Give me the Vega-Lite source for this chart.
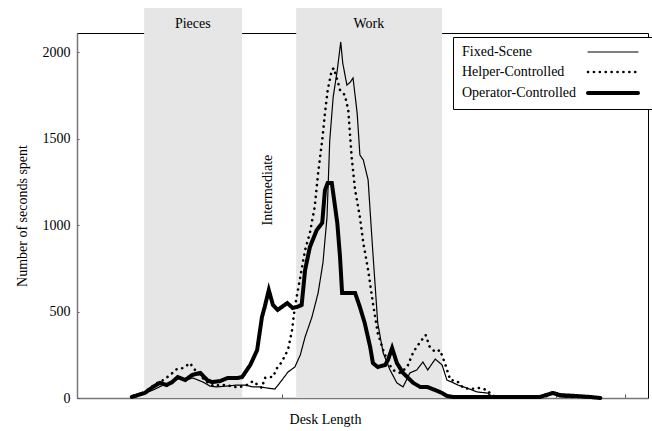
{
  "$schema": "https://vega.github.io/schema/vega-lite/v6.json",
  "width": 571,
  "height": 365,
  "autosize": {"type": "none"},
  "padding": {"left": 77, "top": 33, "right": 4, "bottom": 33},
  "background": "white",
  "config": {
    "view": {"stroke": "black", "strokeWidth": 1},
    "font": "Liberation Serif",
    "axis": {"labelFont": "Liberation Serif", "titleFont": "Liberation Serif", "labelColor": "black", "titleColor": "black", "titleFontWeight": "normal", "grid": false, "domainColor": "#777", "domainWidth": 1.5, "tickColor": "#555"}
  },
  "datasets": {
    "bands": [
      {"band": "Pieces", "start": 0.98, "end": 2.41, "center": 1.69},
      {"band": "Work", "start": 3.2, "end": 5.33, "center": 4.26}
    ],
    "series": [
      {"s": "Fixed-Scene", "x": 0.82, "v": 6}, {"s": "Fixed-Scene", "x": 0.99, "v": 29}, {"s": "Fixed-Scene", "x": 1.11, "v": 46}, {"s": "Fixed-Scene", "x": 1.26, "v": 75}, {"s": "Fixed-Scene", "x": 1.39, "v": 92}, {"s": "Fixed-Scene", "x": 1.5, "v": 116}, {"s": "Fixed-Scene", "x": 1.59, "v": 104}, {"s": "Fixed-Scene", "x": 1.69, "v": 116}, {"s": "Fixed-Scene", "x": 1.84, "v": 92}, {"s": "Fixed-Scene", "x": 1.94, "v": 69}, {"s": "Fixed-Scene", "x": 2.04, "v": 64}, {"s": "Fixed-Scene", "x": 2.19, "v": 69}, {"s": "Fixed-Scene", "x": 2.34, "v": 75}, {"s": "Fixed-Scene", "x": 2.45, "v": 75}, {"s": "Fixed-Scene", "x": 2.57, "v": 64}, {"s": "Fixed-Scene", "x": 2.67, "v": 64}, {"s": "Fixed-Scene", "x": 2.77, "v": 58}, {"s": "Fixed-Scene", "x": 2.89, "v": 52}, {"s": "Fixed-Scene", "x": 2.96, "v": 87}, {"s": "Fixed-Scene", "x": 3.08, "v": 150}, {"s": "Fixed-Scene", "x": 3.18, "v": 179}, {"s": "Fixed-Scene", "x": 3.26, "v": 249}, {"s": "Fixed-Scene", "x": 3.33, "v": 353}, {"s": "Fixed-Scene", "x": 3.43, "v": 468}, {"s": "Fixed-Scene", "x": 3.52, "v": 607}, {"s": "Fixed-Scene", "x": 3.59, "v": 780}, {"s": "Fixed-Scene", "x": 3.65, "v": 1046}, {"s": "Fixed-Scene", "x": 3.69, "v": 1491}, {"s": "Fixed-Scene", "x": 3.74, "v": 1740}, {"s": "Fixed-Scene", "x": 3.8, "v": 1896}, {"s": "Fixed-Scene", "x": 3.85, "v": 2058}, {"s": "Fixed-Scene", "x": 3.88, "v": 1936}, {"s": "Fixed-Scene", "x": 3.94, "v": 1809}, {"s": "Fixed-Scene", "x": 3.99, "v": 1826}, {"s": "Fixed-Scene", "x": 4.03, "v": 1850}, {"s": "Fixed-Scene", "x": 4.09, "v": 1647}, {"s": "Fixed-Scene", "x": 4.13, "v": 1405}, {"s": "Fixed-Scene", "x": 4.18, "v": 1376}, {"s": "Fixed-Scene", "x": 4.25, "v": 1260}, {"s": "Fixed-Scene", "x": 4.31, "v": 896}, {"s": "Fixed-Scene", "x": 4.35, "v": 665}, {"s": "Fixed-Scene", "x": 4.39, "v": 434}, {"s": "Fixed-Scene", "x": 4.47, "v": 260}, {"s": "Fixed-Scene", "x": 4.57, "v": 162}, {"s": "Fixed-Scene", "x": 4.67, "v": 87}, {"s": "Fixed-Scene", "x": 4.76, "v": 64}, {"s": "Fixed-Scene", "x": 4.86, "v": 145}, {"s": "Fixed-Scene", "x": 4.96, "v": 162}, {"s": "Fixed-Scene", "x": 5.05, "v": 208}, {"s": "Fixed-Scene", "x": 5.12, "v": 162}, {"s": "Fixed-Scene", "x": 5.23, "v": 225}, {"s": "Fixed-Scene", "x": 5.33, "v": 191}, {"s": "Fixed-Scene", "x": 5.4, "v": 104}, {"s": "Fixed-Scene", "x": 5.47, "v": 92}, {"s": "Fixed-Scene", "x": 5.56, "v": 75}, {"s": "Fixed-Scene", "x": 5.69, "v": 58}, {"s": "Fixed-Scene", "x": 5.84, "v": 35}, {"s": "Fixed-Scene", "x": 5.99, "v": 29}, {"s": "Fixed-Scene", "x": 6.07, "v": 6}, {"s": "Fixed-Scene", "x": 6.76, "v": 6}, {"s": "Fixed-Scene", "x": 6.95, "v": 23}, {"s": "Fixed-Scene", "x": 7.05, "v": 6}, {"s": "Fixed-Scene", "x": 7.64, "v": 0},
      {"s": "Helper-Controlled", "x": 0.88, "v": 17}, {"s": "Helper-Controlled", "x": 0.99, "v": 35}, {"s": "Helper-Controlled", "x": 1.17, "v": 87}, {"s": "Helper-Controlled", "x": 1.26, "v": 104}, {"s": "Helper-Controlled", "x": 1.36, "v": 133}, {"s": "Helper-Controlled", "x": 1.46, "v": 168}, {"s": "Helper-Controlled", "x": 1.55, "v": 173}, {"s": "Helper-Controlled", "x": 1.65, "v": 202}, {"s": "Helper-Controlled", "x": 1.69, "v": 179}, {"s": "Helper-Controlled", "x": 1.77, "v": 139}, {"s": "Helper-Controlled", "x": 1.9, "v": 92}, {"s": "Helper-Controlled", "x": 1.99, "v": 69}, {"s": "Helper-Controlled", "x": 2.09, "v": 75}, {"s": "Helper-Controlled", "x": 2.19, "v": 75}, {"s": "Helper-Controlled", "x": 2.28, "v": 64}, {"s": "Helper-Controlled", "x": 2.38, "v": 64}, {"s": "Helper-Controlled", "x": 2.48, "v": 75}, {"s": "Helper-Controlled", "x": 2.57, "v": 98}, {"s": "Helper-Controlled", "x": 2.64, "v": 75}, {"s": "Helper-Controlled", "x": 2.7, "v": 58}, {"s": "Helper-Controlled", "x": 2.74, "v": 116}, {"s": "Helper-Controlled", "x": 2.82, "v": 121}, {"s": "Helper-Controlled", "x": 2.86, "v": 121}, {"s": "Helper-Controlled", "x": 2.92, "v": 173}, {"s": "Helper-Controlled", "x": 2.99, "v": 208}, {"s": "Helper-Controlled", "x": 3.04, "v": 249}, {"s": "Helper-Controlled", "x": 3.08, "v": 277}, {"s": "Helper-Controlled", "x": 3.14, "v": 393}, {"s": "Helper-Controlled", "x": 3.18, "v": 526}, {"s": "Helper-Controlled", "x": 3.26, "v": 699}, {"s": "Helper-Controlled", "x": 3.33, "v": 855}, {"s": "Helper-Controlled", "x": 3.4, "v": 954}, {"s": "Helper-Controlled", "x": 3.47, "v": 1104}, {"s": "Helper-Controlled", "x": 3.52, "v": 1300}, {"s": "Helper-Controlled", "x": 3.58, "v": 1491}, {"s": "Helper-Controlled", "x": 3.62, "v": 1647}, {"s": "Helper-Controlled", "x": 3.66, "v": 1780}, {"s": "Helper-Controlled", "x": 3.72, "v": 1896}, {"s": "Helper-Controlled", "x": 3.75, "v": 1907}, {"s": "Helper-Controlled", "x": 3.8, "v": 1838}, {"s": "Helper-Controlled", "x": 3.84, "v": 1780}, {"s": "Helper-Controlled", "x": 3.91, "v": 1751}, {"s": "Helper-Controlled", "x": 3.96, "v": 1665}, {"s": "Helper-Controlled", "x": 4.01, "v": 1393}, {"s": "Helper-Controlled", "x": 4.06, "v": 1202}, {"s": "Helper-Controlled", "x": 4.13, "v": 1046}, {"s": "Helper-Controlled", "x": 4.18, "v": 896}, {"s": "Helper-Controlled", "x": 4.25, "v": 740}, {"s": "Helper-Controlled", "x": 4.32, "v": 549}, {"s": "Helper-Controlled", "x": 4.39, "v": 376}, {"s": "Helper-Controlled", "x": 4.47, "v": 277}, {"s": "Helper-Controlled", "x": 4.54, "v": 208}, {"s": "Helper-Controlled", "x": 4.61, "v": 162}, {"s": "Helper-Controlled", "x": 4.72, "v": 145}, {"s": "Helper-Controlled", "x": 4.82, "v": 179}, {"s": "Helper-Controlled", "x": 4.91, "v": 266}, {"s": "Helper-Controlled", "x": 5.01, "v": 324}, {"s": "Helper-Controlled", "x": 5.09, "v": 364}, {"s": "Helper-Controlled", "x": 5.15, "v": 295}, {"s": "Helper-Controlled", "x": 5.23, "v": 266}, {"s": "Helper-Controlled", "x": 5.3, "v": 277}, {"s": "Helper-Controlled", "x": 5.37, "v": 202}, {"s": "Helper-Controlled", "x": 5.45, "v": 104}, {"s": "Helper-Controlled", "x": 5.55, "v": 98}, {"s": "Helper-Controlled", "x": 5.64, "v": 58}, {"s": "Helper-Controlled", "x": 5.74, "v": 52}, {"s": "Helper-Controlled", "x": 5.88, "v": 58}, {"s": "Helper-Controlled", "x": 5.99, "v": 46}, {"s": "Helper-Controlled", "x": 6.06, "v": 12}, {"s": "Helper-Controlled", "x": 6.18, "v": 6}, {"s": "Helper-Controlled", "x": 6.76, "v": 6}, {"s": "Helper-Controlled", "x": 6.88, "v": 12}, {"s": "Helper-Controlled", "x": 6.95, "v": 40}, {"s": "Helper-Controlled", "x": 7.02, "v": 17}, {"s": "Helper-Controlled", "x": 7.2, "v": 6}, {"s": "Helper-Controlled", "x": 7.42, "v": 6}, {"s": "Helper-Controlled", "x": 7.64, "v": 0},
      {"s": "Operator-Controlled", "x": 0.8, "v": 6}, {"s": "Operator-Controlled", "x": 0.99, "v": 29}, {"s": "Operator-Controlled", "x": 1.11, "v": 64}, {"s": "Operator-Controlled", "x": 1.21, "v": 87}, {"s": "Operator-Controlled", "x": 1.31, "v": 75}, {"s": "Operator-Controlled", "x": 1.39, "v": 92}, {"s": "Operator-Controlled", "x": 1.47, "v": 121}, {"s": "Operator-Controlled", "x": 1.58, "v": 104}, {"s": "Operator-Controlled", "x": 1.68, "v": 133}, {"s": "Operator-Controlled", "x": 1.8, "v": 145}, {"s": "Operator-Controlled", "x": 1.9, "v": 104}, {"s": "Operator-Controlled", "x": 1.97, "v": 92}, {"s": "Operator-Controlled", "x": 2.09, "v": 98}, {"s": "Operator-Controlled", "x": 2.2, "v": 116}, {"s": "Operator-Controlled", "x": 2.35, "v": 116}, {"s": "Operator-Controlled", "x": 2.41, "v": 121}, {"s": "Operator-Controlled", "x": 2.53, "v": 191}, {"s": "Operator-Controlled", "x": 2.63, "v": 277}, {"s": "Operator-Controlled", "x": 2.7, "v": 468}, {"s": "Operator-Controlled", "x": 2.74, "v": 526}, {"s": "Operator-Controlled", "x": 2.8, "v": 624}, {"s": "Operator-Controlled", "x": 2.86, "v": 538}, {"s": "Operator-Controlled", "x": 2.93, "v": 509}, {"s": "Operator-Controlled", "x": 3.07, "v": 549}, {"s": "Operator-Controlled", "x": 3.15, "v": 520}, {"s": "Operator-Controlled", "x": 3.21, "v": 526}, {"s": "Operator-Controlled", "x": 3.28, "v": 538}, {"s": "Operator-Controlled", "x": 3.33, "v": 740}, {"s": "Operator-Controlled", "x": 3.4, "v": 873}, {"s": "Operator-Controlled", "x": 3.5, "v": 971}, {"s": "Operator-Controlled", "x": 3.58, "v": 1012}, {"s": "Operator-Controlled", "x": 3.62, "v": 1202}, {"s": "Operator-Controlled", "x": 3.66, "v": 1243}, {"s": "Operator-Controlled", "x": 3.72, "v": 1243}, {"s": "Operator-Controlled", "x": 3.8, "v": 1012}, {"s": "Operator-Controlled", "x": 3.84, "v": 815}, {"s": "Operator-Controlled", "x": 3.87, "v": 607}, {"s": "Operator-Controlled", "x": 3.94, "v": 607}, {"s": "Operator-Controlled", "x": 4.06, "v": 607}, {"s": "Operator-Controlled", "x": 4.13, "v": 526}, {"s": "Operator-Controlled", "x": 4.2, "v": 434}, {"s": "Operator-Controlled", "x": 4.28, "v": 295}, {"s": "Operator-Controlled", "x": 4.32, "v": 202}, {"s": "Operator-Controlled", "x": 4.39, "v": 179}, {"s": "Operator-Controlled", "x": 4.5, "v": 191}, {"s": "Operator-Controlled", "x": 4.54, "v": 220}, {"s": "Operator-Controlled", "x": 4.6, "v": 289}, {"s": "Operator-Controlled", "x": 4.67, "v": 202}, {"s": "Operator-Controlled", "x": 4.76, "v": 145}, {"s": "Operator-Controlled", "x": 4.91, "v": 87}, {"s": "Operator-Controlled", "x": 5.01, "v": 64}, {"s": "Operator-Controlled", "x": 5.11, "v": 64}, {"s": "Operator-Controlled", "x": 5.23, "v": 46}, {"s": "Operator-Controlled", "x": 5.33, "v": 29}, {"s": "Operator-Controlled", "x": 5.4, "v": 12}, {"s": "Operator-Controlled", "x": 5.49, "v": 6}, {"s": "Operator-Controlled", "x": 6.18, "v": 6}, {"s": "Operator-Controlled", "x": 6.76, "v": 6}, {"s": "Operator-Controlled", "x": 6.95, "v": 29}, {"s": "Operator-Controlled", "x": 7.05, "v": 17}, {"s": "Operator-Controlled", "x": 7.27, "v": 12}, {"s": "Operator-Controlled", "x": 7.49, "v": 6}, {"s": "Operator-Controlled", "x": 7.64, "v": 0}
    ]
  },
  "layer": [
    {
      "data": {"name": "bands"},
      "mark": {"type": "rect", "color": "#e6e6e6", "clip": false},
      "encoding": {
        "x": {"field": "start", "type": "quantitative", "scale": {"domain": [0, 8.336], "nice": false, "zero": false}},
        "x2": {"field": "end"},
        "y": {"datum": 0, "type": "quantitative", "scale": {"domain": [0, 2110], "nice": false}},
        "y2": {"datum": 2254}
      }
    },
    {
      "data": {"name": "bands"},
      "mark": {"type": "text", "font": "Liberation Serif", "fontSize": 14, "color": "black", "baseline": "middle", "clip": false},
      "encoding": {
        "x": {"field": "center", "type": "quantitative"},
        "y": {"datum": 2162, "type": "quantitative"},
        "text": {"field": "band"}
      }
    },
    {
      "data": {"values": [{"label": "Intermediate"}]},
      "mark": {"type": "text", "font": "Liberation Serif", "fontSize": 14, "color": "black", "angle": 270, "baseline": "middle", "align": "center"},
      "encoding": {
        "x": {"datum": 2.79, "type": "quantitative"},
        "y": {"datum": 1202, "type": "quantitative"},
        "text": {"field": "label"}
      }
    },
    {
      "data": {"name": "series"},
      "mark": {"type": "line", "color": "black", "strokeCap": "round", "strokeJoin": "miter"},
      "encoding": {
        "x": {"field": "x", "type": "quantitative", "axis": {"values": [0, 1, 2, 3, 4, 5, 6, 7, 8], "labels": false, "tickSize": -4, "title": "Desk Length", "titleFontSize": 14, "titlePadding": 14, "titleX": 248}},
        "y": {"field": "v", "type": "quantitative", "axis": {"values": [0, 500, 1000, 1500, 2000], "format": "d", "tickSize": -2, "labelFontSize": 14, "labelPadding": 9, "title": "Number of seconds spent", "titleFontSize": 14, "titlePadding": 13}},
        "detail": {"field": "s"},
        "strokeDash": {"field": "s", "type": "nominal", "scale": {"domain": ["Fixed-Scene", "Helper-Controlled", "Operator-Controlled"], "range": [[1, 0], [0.1, 5.8], [1, 0]]},
          "legend": {"title": null, "orient": "none", "legendX": 376, "legendY": 4, "padding": 8, "strokeColor": "black", "fillColor": "white", "labelFont": "Liberation Serif", "labelFontSize": 14, "labelColor": "black", "symbolType": "M-5,0H5", "symbolSize": 100, "rowPadding": 6, "labelOffset": -158, "symbolOffset": 145, "symbolStrokeColor": "black", "encoding": {"symbols": {"strokeCap": {"value": "round"}}}}},
        "strokeWidth": {"field": "s", "type": "nominal", "scale": {"domain": ["Fixed-Scene", "Helper-Controlled", "Operator-Controlled"], "range": [1.2, 4, 5.5]}, "legend": null}
      }
    },
    {
      "mark": {"type": "rule", "color": "black", "strokeWidth": 1},
      "encoding": {"y": {"datum": 2110, "type": "quantitative"}}
    },
    {
      "mark": {"type": "rule", "color": "black", "strokeWidth": 1},
      "encoding": {"x": {"datum": 8.336, "type": "quantitative"}}
    }
  ]
}
